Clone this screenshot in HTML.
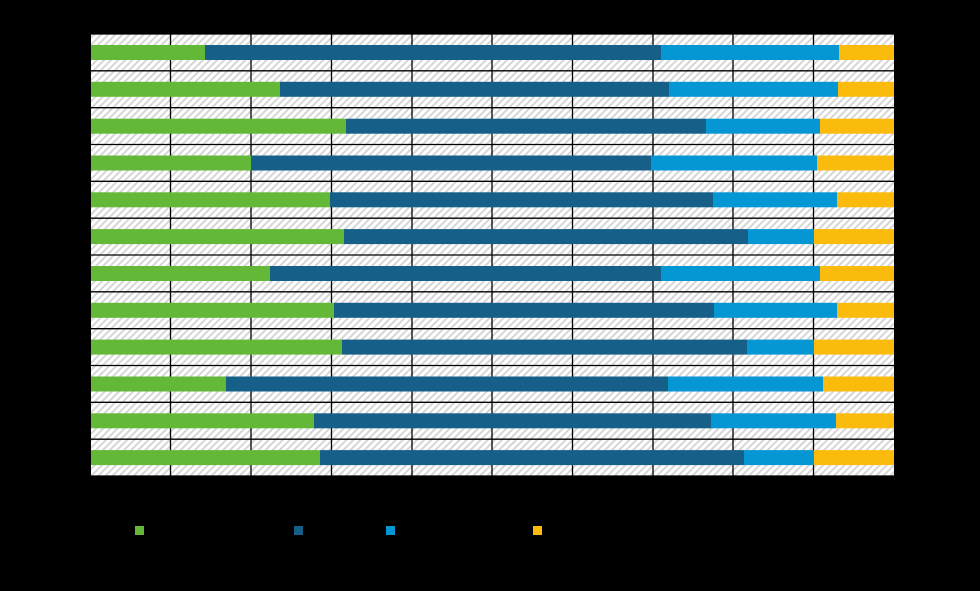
<!DOCTYPE html>
<html><head><meta charset="utf-8"><style>
html,body{margin:0;padding:0;background:#000;}
svg{display:block;}
</style></head><body>
<svg width="980" height="591" xmlns="http://www.w3.org/2000/svg">
<defs>
<pattern id="h" patternUnits="userSpaceOnUse" width="5" height="5" patternTransform="rotate(45)">
<rect width="5" height="5" fill="#fff"/>
<rect width="2" height="5" fill="#d6d6d6"/>
</pattern>
</defs>
<rect x="0" y="0" width="980" height="591" fill="#000"/>
<rect x="91" y="34" width="803" height="442" fill="url(#h)"/>
<g stroke="#000" stroke-width="1.3">
<line x1="170.5" y1="34" x2="170.5" y2="476"/>
<line x1="251" y1="34" x2="251" y2="476"/>
<line x1="331.5" y1="34" x2="331.5" y2="476"/>
<line x1="412" y1="34" x2="412" y2="476"/>
<line x1="492" y1="34" x2="492" y2="476"/>
<line x1="572.5" y1="34" x2="572.5" y2="476"/>
<line x1="653" y1="34" x2="653" y2="476"/>
<line x1="733" y1="34" x2="733" y2="476"/>
<line x1="813.5" y1="34" x2="813.5" y2="476"/>
<line x1="10" y1="34" x2="894" y2="34"/>
<line x1="48" y1="70.8" x2="894" y2="70.8"/>
<line x1="48" y1="107.7" x2="894" y2="107.7"/>
<line x1="10" y1="144.5" x2="894" y2="144.5"/>
<line x1="48" y1="181.3" x2="894" y2="181.3"/>
<line x1="48" y1="218.2" x2="894" y2="218.2"/>
<line x1="10" y1="255" x2="894" y2="255"/>
<line x1="48" y1="291.8" x2="894" y2="291.8"/>
<line x1="48" y1="328.7" x2="894" y2="328.7"/>
<line x1="10" y1="365.5" x2="894" y2="365.5"/>
<line x1="48" y1="402.3" x2="894" y2="402.3"/>
<line x1="48" y1="439.2" x2="894" y2="439.2"/>
<line x1="10" y1="476" x2="894" y2="476"/>
</g>
<g id="bars"></g>
<rect x="135" y="526" width="9" height="9" fill="#63b937"/>
<rect x="294" y="526" width="9" height="9" fill="#155f88"/>
<rect x="386" y="526" width="9" height="9" fill="#0596d4"/>
<rect x="533" y="526" width="9" height="9" fill="#fbbb0d"/>
</svg>
<script>
var d=[[205,661,839],[280,669,838],[346,706,820],[251,651,817],[330,713,837],[344,748,814],[270,661,820],[334,714,837],[342,747,814],[226,668,823],[314,711,836],[320,744,814]];
var c=["#63b937","#155f88","#0596d4","#fbbb0d"];
var g=document.getElementById("bars"),s="";
d.forEach(function(r,i){var y=34+i*36.83+11;var xs=[91].concat(r,[894]);
for(var k=0;k<4;k++)s+='<rect x="'+xs[k]+'" y="'+y.toFixed(1)+'" width="'+(xs[k+1]-xs[k])+'" height="15" fill="'+c[k]+'"/>';});
g.innerHTML=s;
</script>
</body></html>
